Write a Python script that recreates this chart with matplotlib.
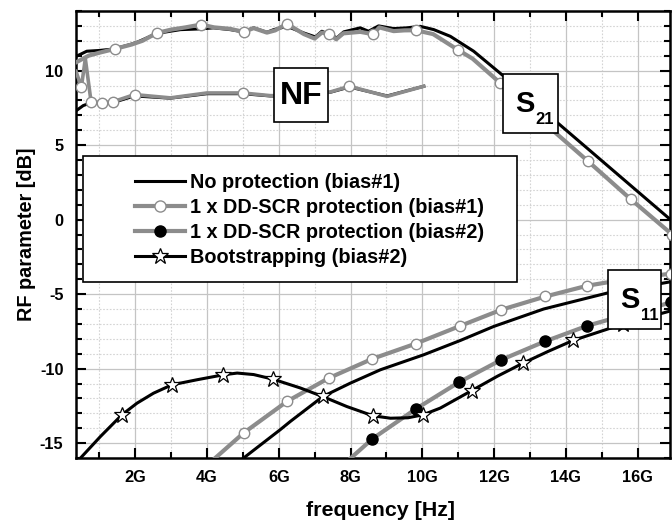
import matplotlib
matplotlib.use("Agg")
import matplotlib.pyplot as plt
from matplotlib.patches import Rectangle
from matplotlib.ticker import MultipleLocator, FuncFormatter
from matplotlib.lines import Line2D

plt.rcParams['font.family'] = ['Liberation Sans', 'DejaVu Sans']
plt.rcParams['font.weight'] = 'bold'

# ---------------- data (frequency in GHz, values in dB) ----------------
# S21, no protection (bias#1)
s21_np_f = [0.35, 0.65, 1.0, 1.4, 1.86, 2.05, 2.61, 3.26, 3.83, 4.18, 4.65, 5.02, 5.3, 5.67,
            5.86, 6.23, 6.69, 7.02, 7.2, 7.41, 7.62, 7.81, 8.27, 8.5, 8.78, 9.2, 9.57, 9.94,
            10.32, 10.78, 11.43, 12.27, 13.77, 16.97]
s21_np_v = [10.95, 11.3, 11.35, 11.45, 11.75, 11.9, 12.5, 12.75, 12.8, 12.87, 12.75, 12.6, 12.87, 12.57,
            12.75, 12.97, 12.53, 12.26, 12.64, 12.42, 12.2, 12.6, 12.87, 12.64, 13.0, 12.82, 12.87, 12.97,
            12.75, 12.3, 11.3, 9.62, 6.49, -0.12]
# S21, 1 x DD-SCR (bias#1)
s21_dd_f = [0.35, 0.7, 1.0, 1.44, 1.9, 2.2, 2.61, 3.0, 3.4, 3.83, 4.2, 4.65, 5.02, 5.3, 5.67, 5.9,
            6.23, 6.7, 7.0, 7.2, 7.41, 7.6, 7.8, 8.27, 8.5, 8.63, 8.8, 9.2, 9.5, 9.81, 10.3, 10.98,
            11.4, 12.17, 13.39, 14.62, 15.8, 16.96]
s21_dd_v = [10.55, 11.0, 11.2, 11.46, 11.75, 12.0, 12.53, 12.75, 12.9, 13.09, 12.9, 12.8, 12.6, 12.85,
            12.55, 12.7, 13.14, 12.45, 12.15, 12.55, 12.46, 12.1, 12.5, 12.6, 12.5, 12.46, 12.9, 12.65,
            12.7, 12.71, 12.45, 11.41, 10.8, 9.17, 6.5, 3.91, 1.38, -1.0]
s21_dd_marks = [3, 6, 9, 12, 16, 20, 25, 29, 31, 33, 34, 35, 36, 37]

# NF, no protection (bias#1)
nf_np_f = [0.35, 0.55, 0.77, 1.07, 1.37, 1.98, 2.98, 4.0, 4.99, 5.76, 6.6, 7.44, 7.97, 9.02, 10.04]
nf_np_v = [7.3, 7.65, 7.85, 7.8, 7.85, 8.3, 8.15, 8.45, 8.45, 8.3, 8.28, 8.55, 8.9, 8.3, 8.95]
# NF, 1 x DD-SCR (bias#1)
nf_dd_f = [0.35, 0.5, 0.61, 0.77, 1.07, 1.37, 1.98, 2.98, 4.0, 4.99, 5.76, 6.6, 7.44, 7.97, 9.02, 10.04]
nf_dd_v = [9.95, 8.9, 10.8, 7.9, 7.83, 7.9, 8.39, 8.17, 8.5, 8.5, 8.32, 8.3, 8.57, 8.95, 8.27, 8.95]
nf_dd_marks = [1, 3, 4, 5, 6, 9, 13]

# S11, no protection (bias#1)
s11_np_f = [5.02, 6.04, 6.32, 7.23, 7.99, 8.83, 10.04, 11.06, 11.99, 13.38, 15.15, 16.97]
s11_np_v = [-16.0, -14.1, -13.55, -11.87, -10.98, -10.08, -9.07, -8.11, -7.17, -6.0, -4.93, -4.15]
# S11, 1 x DD-SCR (bias#1)
s11_dd1_f = [4.23, 5.02, 6.23, 7.39, 8.61, 9.81, 11.06, 12.2, 13.43, 14.59, 15.8, 16.93]
s11_dd1_v = [-16.0, -14.32, -12.2, -10.64, -9.34, -8.33, -7.13, -6.05, -5.16, -4.44, -3.95, -3.63]
# S11, 1 x DD-SCR (bias#2)
s11_dd2_f = [8.01, 8.61, 9.81, 11.01, 12.2, 13.41, 14.59, 15.8, 16.93]
s11_dd2_v = [-16.0, -14.71, -12.72, -10.93, -9.41, -8.18, -7.13, -6.3, -5.56]
# S11, Bootstrapping (bias#2)
s11_bs_f = [0.4, 1.03, 1.63, 2.05, 2.51, 3.02, 3.72, 4.45, 4.84, 5.3, 5.84, 6.6, 7.22, 7.9, 8.63,
            9.11, 9.6, 10.02, 10.5, 11.38, 12.1, 12.8, 13.5, 14.2, 15.6, 16.93]
s11_bs_v = [-16.2, -14.56, -13.1, -12.32, -11.65, -11.09, -10.75, -10.42, -10.3, -10.4, -10.71, -11.3,
            -11.87, -12.55, -13.17, -13.33, -13.3, -13.1, -12.65, -11.47, -10.5, -9.64, -8.85, -8.11,
            -7.0, -6.12]
s11_bs_marks = [2, 5, 7, 10, 12, 14, 17, 19, 21, 23, 24]

legend_labels = ["No protection (bias#1)", "1 x DD-SCR protection (bias#1)",
                 "1 x DD-SCR protection (bias#2)", "Bootstrapping (bias#2)"]

# ---------------- figure ----------------
W, H = 672, 523
fig = plt.figure(figsize=(W / 100, H / 100), dpi=100)
L, R, T, B = 76, 670, 11, 458
ax = fig.add_axes([L / W, 1 - B / H, (R - L) / W, (B - T) / H])

GRAY = '#8c8c8c'
BLACK = '#000000'

# S21
ax.plot(s21_dd_f, s21_dd_v, color=GRAY, lw=3.0, marker='o', markevery=s21_dd_marks,
        ms=7.5, mfc='white', mec=GRAY, mew=1.0, zorder=3)
ax.plot(s21_np_f, s21_np_v, color=BLACK, lw=2.2, zorder=2.9)
# NF
ax.plot(nf_np_f, nf_np_v, color=BLACK, lw=2.2, zorder=2.8)
ax.plot(nf_dd_f, nf_dd_v, color=GRAY, lw=2.6, marker='o', markevery=nf_dd_marks,
        ms=7.5, mfc='white', mec=GRAY, mew=1.0, zorder=3)
# S11
ax.plot(s11_dd1_f, s11_dd1_v, color=GRAY, lw=3.0, marker='o', ms=7.5, mfc='white',
        mec=GRAY, mew=1.0, markevery=list(range(1, len(s11_dd1_f))), zorder=3)
ax.plot(s11_np_f, s11_np_v, color=BLACK, lw=2.2, zorder=3)
ax.plot(s11_dd2_f, s11_dd2_v, color=GRAY, lw=3.0, marker='o', ms=8, mfc='black',
        mec='black', markevery=list(range(1, len(s11_dd2_f))), zorder=3)
ax.plot(s11_bs_f, s11_bs_v, color=BLACK, lw=2.2, marker='*', ms=12, mfc='white',
        mec='black', mew=0.9, markevery=s11_bs_marks, zorder=3.2)

ax.set_xlim(0.35, 16.9)
ax.set_ylim(-16, 14)
ax.xaxis.set_major_locator(MultipleLocator(2))
ax.xaxis.set_minor_locator(MultipleLocator(1))
ax.yaxis.set_major_locator(MultipleLocator(5))
ax.yaxis.set_minor_locator(MultipleLocator(1))
ax.xaxis.set_major_formatter(FuncFormatter(lambda v, p: f"{int(round(v))}G"))
ax.yaxis.set_major_formatter(FuncFormatter(lambda v, p: f"{int(round(v))}"))

ax.grid(True, which='major', color='#c4c4c4', lw=0.9, ls='-', zorder=0)
ax.grid(True, which='minor', color='#d4d4d4', lw=0.8, ls=(0, (1.5, 1.5)), zorder=0)
ax.set_axisbelow(True)

ax.tick_params(which='both', direction='in', top=True, right=True, width=1.5, colors='black')
ax.tick_params(which='major', length=7, labelsize=11.8, pad=9)
ax.tick_params(which='minor', length=4)
for lab in ax.get_xticklabels() + ax.get_yticklabels():
    lab.set_fontweight('bold')
for s in ax.spines.values():
    s.set_linewidth(1.8)

ax.set_xlabel("frequency [Hz]", fontsize=15.4, fontweight='bold')
ax.set_ylabel("RF parameter [dB]", fontsize=14.3, fontweight='bold', labelpad=3)
ax.xaxis.set_label_coords(0.513, -0.117)
ax.xaxis.get_label().set_va('center')


def fx(px):
    return px / W


def fy(py):
    return 1 - py / H


def box(x0, y0, x1, y1, lw=1.2):
    r = Rectangle((fx(x0), fy(y1)), fx(x1) - fx(x0), fy(y0) - fy(y1), transform=fig.transFigure,
                  facecolor='white', edgecolor='black', lw=lw, zorder=5, clip_on=False)
    ax.add_patch(r)


# annotation boxes
box(274, 68, 328, 122)
fig.text(fx(301), fy(96), "NF", fontsize=23, fontweight='bold', ha='center', va='center', zorder=6)
box(503, 74, 558, 133)
fig.text(fx(525), fy(112), "S", fontsize=21, fontweight='bold', ha='center', va='baseline', zorder=6)
fig.text(fx(545), fy(124), "21", fontsize=12, fontweight='bold', ha='center', va='baseline', zorder=6)
box(608, 270, 661, 329)
fig.text(fx(630), fy(308), "S", fontsize=21, fontweight='bold', ha='center', va='baseline', zorder=6)
fig.text(fx(650), fy(320), "11", fontsize=12, fontweight='bold', ha='center', va='baseline', zorder=6)

# legend
box(83, 156, 517, 282, lw=1.2)
handles = [
    Line2D([], [], color=BLACK, lw=2.2),
    Line2D([], [], color=GRAY, lw=3.0, marker='o', ms=8, mfc='white', mec=GRAY, mew=1.0),
    Line2D([], [], color=GRAY, lw=3.0, marker='o', ms=8, mfc='black', mec='black'),
    Line2D([], [], color=BLACK, lw=2.2, marker='*', ms=12, mfc='white', mec='black', mew=0.9),
]
leg = fig.legend(handles, legend_labels, loc='upper left', bbox_to_anchor=(fx(129), fy(167)),
                 frameon=False, prop={'weight': 'bold', 'size': 14.3}, handlelength=2.52,
                 handletextpad=0.25, labelspacing=0.295, borderpad=0.3, borderaxespad=0)
leg.set_zorder(7)

fig.savefig("out.png", dpi=100)
